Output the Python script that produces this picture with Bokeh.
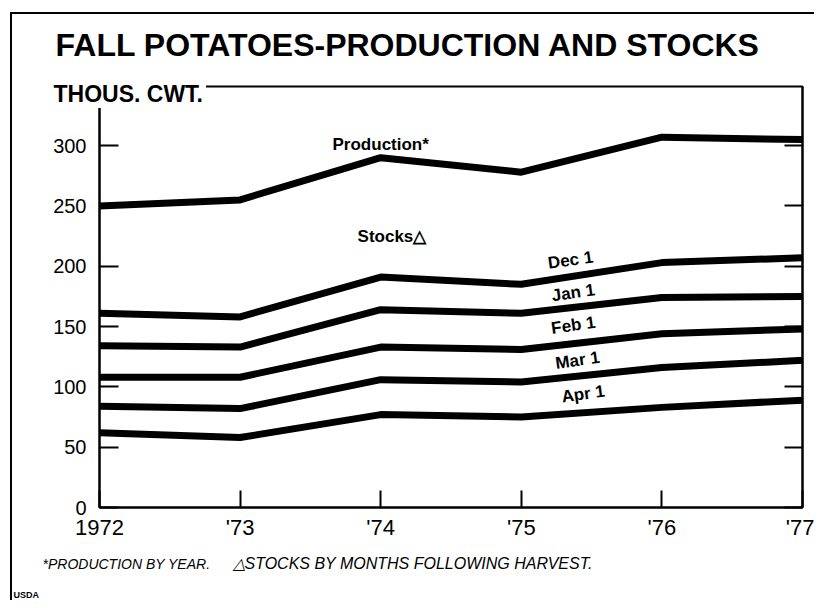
from bokeh.plotting import figure
from bokeh.models import Range1d, Label, FixedTicker, LinearAxis
from bokeh.embed import file_html
from bokeh.resources import INLINE

# ---- data (thousand cwt) ----
years = [1972, 1973, 1974, 1975, 1976, 1977]
year_labels = ["1972", "'73", "'74", "'75", "'76", "'77"]
production = [250, 255, 290, 278, 307, 305]
dec1 = [161, 158, 191, 185, 203, 207]
jan1 = [134, 133, 164, 161, 174, 175]
feb1 = [108, 108, 133, 131, 144, 148]
mar1 = [84, 82, 106, 104, 116, 122]
apr1 = [62, 58, 77, 75, 83, 89]
y_ticks = [0, 50, 100, 150, 200, 250, 300]

FONT = "Liberation Sans"
W = 814
H_HEAD, OVERLAP, H_MAIN, H_FOOT = 108, 23, 460, 55

RULE_LEFT = "linear-gradient(#000,#000) 10px 0 / 2px 100% no-repeat"


def text_panel(height, styles):
    f = figure(width=W, height=height, output_backend="svg", toolbar_location=None,
               x_range=Range1d(0, W), y_range=Range1d(0, height),
               x_axis_location=None, y_axis_location=None, min_border=0,
               outline_line_color=None, background_fill_color=None,
               border_fill_color=None, styles=styles)
    f.grid.visible = False
    return f


def slab(f, x, y, t, size, style="bold", **kw):
    f.add_layout(Label(x=x, y=y, x_units="screen", y_units="screen", text=t,
                       text_font=FONT, text_font_style=style, text_font_size=size,
                       text_color="black", text_baseline="alphabetic", **kw))


# ---- header (drawn above the top strip of the chart) ----
head = text_panel(H_HEAD, {
    "position": "relative", "z-index": "1",
    "background": "linear-gradient(#000,#000) 10px 12px / 2px calc(100% - 12px) no-repeat, "
                  "linear-gradient(#000,#000) 10px 12px / calc(100% - 10px) 2px no-repeat"})
slab(head, 55, H_HEAD - 55 + 11, "FALL POTATOES-PRODUCTION AND STOCKS", "32px")
slab(head, 50, H_HEAD - 101 + 8, "THOUS. CWT.", "23px",
     background_fill_color="white", padding=3)

# ---- main chart ----
p = figure(width=W, height=H_MAIN, output_backend="svg", toolbar_location=None,
           x_range=Range1d(1972, 1977), y_range=Range1d(0, 349),
           min_border_left=99, min_border_right=12, min_border_top=1,
           min_border_bottom=38, background_fill_color="white",
           border_fill_color=None,
           styles={"margin-top": f"-{OVERLAP}px", "background": RULE_LEFT + ", #fff"})
p.xgrid.visible = False
p.ygrid.visible = False
p.outline_line_color = "black"
p.outline_line_width = 2

ya = p.yaxis[0]
ya.ticker = FixedTicker(ticks=y_ticks)
ya.major_tick_in = 19
ya.major_tick_out = 0
ya.minor_tick_in = 0
ya.minor_tick_out = 0
ya.axis_line_width = 2
ya.major_tick_line_width = 2
ya.major_label_text_font = FONT
ya.major_label_text_font_size = "20px"
ya.major_label_text_color = "black"
ya.major_label_standoff = 13

ra = LinearAxis(ticker=FixedTicker(ticks=y_ticks))
ra.major_label_overrides = {t: "" for t in y_ticks}
ra.major_tick_in = 18
ra.major_tick_out = 0
ra.minor_tick_in = 0
ra.minor_tick_out = 0
ra.axis_line_width = 2
ra.major_tick_line_width = 2
ra.major_label_standoff = 0
p.add_layout(ra, "right")

xa = p.xaxis[0]
xa.ticker = FixedTicker(ticks=years)
xa.major_label_overrides = {y: l for y, l in zip(years, year_labels)}
xa.major_tick_in = 17
xa.major_tick_out = 0
xa.minor_tick_in = 0
xa.minor_tick_out = 0
xa.axis_line_width = 2
xa.major_tick_line_width = 2
xa.major_label_text_font = FONT
xa.major_label_text_font_size = "22px"
xa.major_label_text_color = "black"
xa.major_label_standoff = 7

for series in [production, dec1, jan1, feb1, mar1, apr1]:
    p.line(years, series, line_color="black", line_width=7, line_join="round")


def lab(x, y, t, size="17px", angle=0.0):
    p.add_layout(Label(x=x, y=y, text=t, text_font=FONT, text_font_style="bold",
                       text_font_size=size, text_color="black", angle=angle,
                       text_align="center", text_baseline="middle"))


lab(1974.0, 301, "Production*")
lab(1974.08, 225, "Stocks\u25b3")
ang = 0.14
lab(1975.35, 205, "Dec 1", angle=ang)
lab(1975.37, 178, "Jan 1", angle=ang)
lab(1975.37, 151, "Feb 1", angle=ang)
lab(1975.40, 122, "Mar 1", angle=ang)
lab(1975.44, 94, "Apr 1", angle=ang)

# ---- footer ----
foot = text_panel(H_FOOT, {"background": RULE_LEFT + ", #fff"})
slab(foot, 42, H_FOOT - 23 + 5, "*PRODUCTION BY YEAR.", "14px", style="italic")
slab(foot, 232, H_FOOT - 23 + 5, "\u25b3STOCKS BY MONTHS FOLLOWING HARVEST.", "16px", style="italic")
slab(foot, 13, 6, "USDA", "9px")

open("out.html", "w").write(file_html([head, p, foot], INLINE))
